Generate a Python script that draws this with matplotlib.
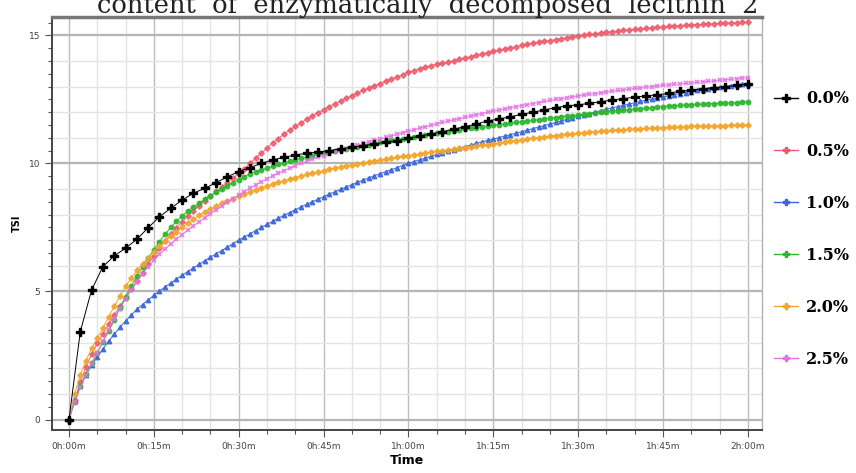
import matplotlib
matplotlib.use("Agg")
import matplotlib.pyplot as plt
from matplotlib.ticker import MultipleLocator, FuncFormatter
from matplotlib.lines import Line2D

# time axis in minutes
minutes = list(range(0, 121))
minutes_2 = list(range(0, 121, 2))

series_labels = ['0.0%', '0.5%', '1.0%', '1.5%', '2.0%', '2.5%']

# 0.0% sampled every 2 min
tsi_00 = [0, 3.43, 5.06, 5.97, 6.39, 6.69, 7.04, 7.49, 7.92, 8.25,
          8.57, 8.84, 9.03, 9.25, 9.48, 9.68, 9.84, 10.0, 10.14, 10.24,
          10.33, 10.4, 10.44, 10.5, 10.57, 10.63, 10.7, 10.76, 10.83, 10.89,
          10.98, 11.07, 11.15, 11.24, 11.34, 11.44, 11.54, 11.66, 11.74, 11.82,
          11.92, 12.0, 12.09, 12.18, 12.25, 12.29, 12.35, 12.41, 12.48, 12.53,
          12.59, 12.64, 12.68, 12.74, 12.82, 12.87, 12.91, 12.96, 13.0, 13.05,
          13.1]

# the others every minute
tsi_05 = [0, 0.75, 1.45, 2.05, 2.55, 2.98, 3.35, 3.72, 4.08, 4.42,
          4.75, 5.08, 5.4, 5.74, 6.07, 6.4, 6.69, 6.97, 7.25, 7.49,
          7.72, 7.95, 8.15, 8.35, 8.55, 8.73, 8.91, 9.08, 9.25, 9.43,
          9.6, 9.8, 10.0, 10.2, 10.4, 10.6, 10.79, 10.97, 11.14, 11.3,
          11.45, 11.59, 11.72, 11.85, 11.98, 12.1, 12.22, 12.33, 12.44, 12.55,
          12.65, 12.75, 12.85, 12.94, 13.03, 13.12, 13.21, 13.3, 13.38, 13.47,
          13.56, 13.63, 13.7, 13.76, 13.82, 13.87, 13.92, 13.96, 14.01, 14.07,
          14.12, 14.17, 14.23, 14.28, 14.33, 14.38, 14.43, 14.47, 14.52, 14.56,
          14.61, 14.65, 14.69, 14.73, 14.77, 14.8, 14.84, 14.87, 14.91, 14.94,
          14.98, 15.01, 15.04, 15.07, 15.1, 15.12, 15.15, 15.17, 15.2, 15.22,
          15.24, 15.26, 15.28, 15.3, 15.32, 15.33, 15.35, 15.37, 15.38, 15.4,
          15.41, 15.42, 15.43, 15.45, 15.46, 15.47, 15.48, 15.49, 15.5, 15.51,
          15.52]

tsi_10 = [0, 0.75, 1.3, 1.75, 2.12, 2.45, 2.75, 3.05, 3.33, 3.6,
          3.85, 4.08, 4.3, 4.49, 4.67, 4.85, 5.02, 5.18, 5.33, 5.48,
          5.63, 5.78, 5.92, 6.06, 6.2, 6.34, 6.47, 6.6, 6.73, 6.87,
          7.0, 7.13, 7.25, 7.38, 7.5, 7.62, 7.74, 7.86, 7.97, 8.08,
          8.19, 8.3, 8.4, 8.5, 8.6, 8.7, 8.8, 8.89, 8.99, 9.08,
          9.17, 9.26, 9.35, 9.44, 9.52, 9.6, 9.68, 9.76, 9.84, 9.92,
          10.0, 10.07, 10.14, 10.21, 10.28, 10.35, 10.42, 10.48, 10.54, 10.6,
          10.66, 10.72, 10.78, 10.84, 10.9, 10.95, 11.01, 11.07, 11.12, 11.18,
          11.24, 11.3, 11.36, 11.42, 11.48, 11.54, 11.6, 11.66, 11.72, 11.78,
          11.84, 11.9, 11.95, 12.01, 12.06, 12.12, 12.17, 12.22, 12.27, 12.32,
          12.37, 12.42, 12.47, 12.51, 12.56, 12.6, 12.64, 12.69, 12.73, 12.77,
          12.81, 12.85, 12.88, 12.92, 12.95, 12.98, 13.01, 13.04, 13.07, 13.1,
          13.12]

tsi_15 = [0, 0.7, 1.3, 1.78, 2.2, 2.6, 3.02, 3.45, 3.9, 4.35,
          4.8, 5.2, 5.6, 5.96, 6.3, 6.63, 6.95, 7.24, 7.5, 7.74,
          7.95, 8.13, 8.3, 8.46, 8.6, 8.74, 8.87, 9.0, 9.12, 9.25,
          9.37, 9.49, 9.6, 9.68, 9.75, 9.82, 9.89, 9.96, 10.02, 10.08,
          10.14, 10.2, 10.25, 10.3, 10.35, 10.4, 10.45, 10.5, 10.54, 10.58,
          10.62, 10.66, 10.7, 10.74, 10.78, 10.82, 10.86, 10.9, 10.94, 10.97,
          11.01, 11.04, 11.08, 11.11, 11.15, 11.18, 11.21, 11.24, 11.27, 11.31,
          11.34, 11.37, 11.4, 11.43, 11.46, 11.49, 11.52, 11.55, 11.57, 11.6,
          11.63, 11.66, 11.68, 11.71, 11.74, 11.77, 11.79, 11.82, 11.85, 11.87,
          11.9, 11.92, 11.95, 11.97, 12.0, 12.02, 12.04, 12.06, 12.08, 12.1,
          12.12, 12.14, 12.16, 12.18, 12.2, 12.22, 12.24, 12.25, 12.27, 12.28,
          12.3, 12.31, 12.32, 12.33, 12.34, 12.35, 12.36, 12.37, 12.38, 12.39,
          12.4]

tsi_20 = [0, 1.0, 1.75, 2.3, 2.78, 3.18, 3.58, 4.0, 4.42, 4.82,
          5.2, 5.52, 5.82, 6.08, 6.32, 6.55, 6.76, 6.96, 7.15, 7.33,
          7.5, 7.66, 7.82, 7.97, 8.1, 8.22, 8.34, 8.44, 8.54, 8.63,
          8.72, 8.81, 8.89, 8.97, 9.05, 9.12, 9.19, 9.26, 9.33, 9.39,
          9.45, 9.51, 9.57, 9.62, 9.67, 9.72, 9.77, 9.81, 9.86, 9.9,
          9.94, 9.98, 10.02, 10.06, 10.1, 10.14, 10.17, 10.21, 10.24, 10.28,
          10.31, 10.34, 10.38, 10.41, 10.44, 10.47, 10.5, 10.53, 10.56, 10.59,
          10.62, 10.65, 10.68, 10.71, 10.74, 10.77, 10.8, 10.83, 10.86, 10.89,
          10.92, 10.95, 10.98, 11.01, 11.04, 11.07, 11.09, 11.12, 11.14, 11.16,
          11.18, 11.2, 11.22, 11.24, 11.26, 11.27, 11.29, 11.3, 11.32, 11.33,
          11.34, 11.35, 11.37, 11.38, 11.39, 11.4, 11.41, 11.42, 11.43, 11.44,
          11.45, 11.46, 11.46, 11.47, 11.47, 11.48, 11.48, 11.49, 11.49, 11.5,
          11.5]

tsi_25 = [0, 0.7, 1.25, 1.72, 2.15, 2.6, 3.05, 3.5, 3.93, 4.33,
          4.7, 5.05, 5.38, 5.68, 5.96, 6.22, 6.45, 6.66, 6.86, 7.04,
          7.22, 7.39, 7.56, 7.72, 7.88, 8.03, 8.18, 8.33, 8.48, 8.62,
          8.76, 8.9, 9.03, 9.16, 9.28, 9.4, 9.51, 9.62, 9.72, 9.82,
          9.91, 10.0, 10.08, 10.16, 10.24, 10.31, 10.38, 10.45, 10.52, 10.58,
          10.65, 10.71, 10.78, 10.84, 10.9, 10.96, 11.02, 11.08, 11.14, 11.2,
          11.26, 11.32, 11.38, 11.43, 11.49, 11.54, 11.6, 11.65, 11.7, 11.75,
          11.8, 11.85, 11.9, 11.95, 12.0, 12.04, 12.09, 12.13, 12.18, 12.22,
          12.26, 12.3, 12.34, 12.38, 12.42, 12.46, 12.5, 12.53, 12.57, 12.6,
          12.64, 12.67, 12.7, 12.73, 12.76, 12.79, 12.82, 12.85, 12.88, 12.9,
          12.93, 12.95, 12.98, 13.0, 13.03, 13.05, 13.07, 13.09, 13.11, 13.13,
          13.15, 13.17, 13.19, 13.21, 13.23, 13.25, 13.27, 13.29, 13.31, 13.33,
          13.35]

colors = ['#000000', '#ee5b6b', '#3a66dc', '#2eb62e', '#f2a52a', '#e472e6']

fig = plt.figure(figsize=(8.56, 4.73), dpi=100)
ax = fig.add_axes([52 / 856, 43 / 473, 710 / 856, 413 / 473])

# light grid every 5 min / every unit, stronger one on the major ticks
for m in range(0, 125, 5):
    ax.axvline(m, color='#bdbdbd' if m % 15 == 0 else '#e4e4e4',
               lw=1.0, zorder=0)
for v in range(0, 16):
    ax.axhline(v, color='#b5b5b5' if v % 5 == 0 else '#e4e4e4',
               lw=1.6 if v % 5 == 0 else 1.0, zorder=0)

ax.plot(minutes, tsi_05, color=colors[1], lw=0.8, marker='D', ms=2.8,
        alpha=0.85, zorder=3)
ax.plot(minutes, tsi_10, color=colors[2], lw=0.8, marker='^', ms=3.2,
        alpha=0.9, zorder=3)
ax.plot(minutes, tsi_15, color=colors[3], lw=0.8, marker='o', ms=3.2,
        alpha=0.9, zorder=3)
ax.plot(minutes, tsi_20, color=colors[4], lw=0.8, marker='D', ms=2.8,
        alpha=0.9, zorder=3)
ax.plot(minutes, tsi_25, color=colors[5], lw=0.8, marker='x', ms=3.5,
        mew=1.3, alpha=0.85, zorder=3)
ax.plot(minutes_2, tsi_00, color='black', lw=0.7, marker='P', ms=5.5,
        zorder=4)

ax.set_xlim(-3, 122.5)
ax.set_ylim(-0.41, 15.72)

ax.xaxis.set_major_locator(MultipleLocator(15))
ax.xaxis.set_minor_locator(MultipleLocator(5))
ax.xaxis.set_major_formatter(
    FuncFormatter(lambda x, pos: '%dh:%02dm' % (int(x) // 60, int(x) % 60)))
ax.yaxis.set_major_locator(MultipleLocator(5))
ax.yaxis.set_minor_locator(MultipleLocator(0.5))

tick_font = ['Liberation Sans Narrow', 'DejaVu Sans']
ax.tick_params(which='both', direction='out', color='#555555', width=0.8)
ax.tick_params(which='major', length=5, labelsize=6.5, labelcolor='#444444')
ax.tick_params(which='minor', length=3)
for lab in ax.get_xticklabels() + ax.get_yticklabels():
    lab.set_family(tick_font)

for side in ['left', 'bottom']:
    ax.spines[side].set_color('#444444')
    ax.spines[side].set_linewidth(1.4)
ax.spines['top'].set_color('#777777')
ax.spines['top'].set_linewidth(2.5)
ax.spines['right'].set_color('#b0b0b0')
ax.spines['right'].set_linewidth(1.0)

ax.set_xlabel('Time', fontsize=9, fontweight='bold', family=tick_font,
              labelpad=2)
ax.set_ylabel('TSI', fontsize=7, fontweight='bold', labelpad=5)

fig.text(0.50, 0.972, 'content  of  enzymatically  decomposed  lecithin  2',
         ha='center', va='baseline', fontsize=18.5, family='DejaVu Serif',
         color='#222222')

handles = [Line2D([], [], color='black', lw=1.0, marker='P', ms=6)]
for c in colors[1:]:
    handles.append(Line2D([], [], color=c, lw=1.0, marker='P', ms=4))
fig.legend(handles, series_labels, loc='upper left',
           bbox_to_anchor=(760 / 856, 1 - 76 / 473), frameon=False,
           prop={'family': 'DejaVu Serif', 'size': 11.5, 'weight': 'bold'},
           labelspacing=2.2, handlelength=1.5, handletextpad=0.5)

fig.savefig('out.png', dpi=100)
